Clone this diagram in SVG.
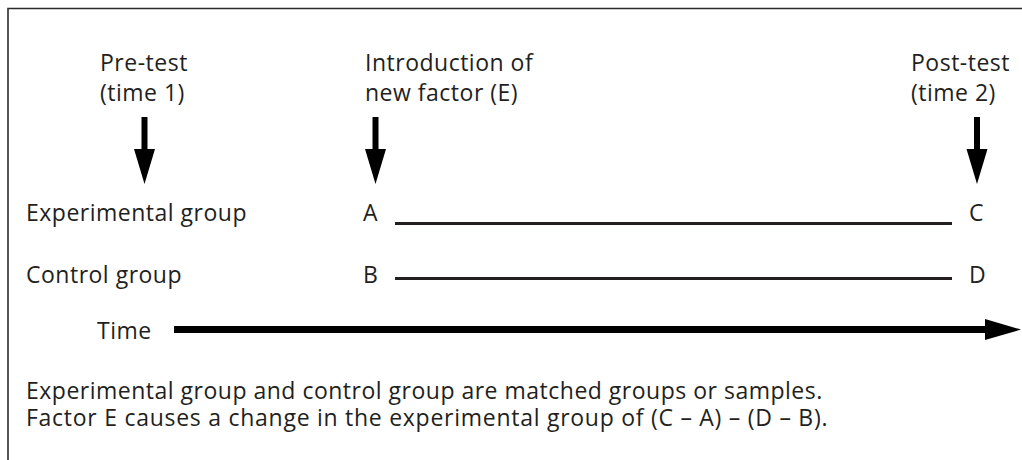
<svg xmlns="http://www.w3.org/2000/svg" width="1022" height="460" viewBox="0 0 1022 460">
<style>
  text { font-family: "Open Sans", "Liberation Sans", sans-serif; font-size: 23px; fill: #231f20; letter-spacing: 0.5px; }
  .thin { stroke: #231f20; stroke-width: 3; fill: none; }
  .shaft { stroke: #000; stroke-width: 6; fill: none; }
  .head { fill: #000; }
</style>
<rect width="1022" height="460" fill="#fff"/>
<path d="M8 460 V8.5 H1022" fill="none" stroke="#2b2b2b" stroke-width="1.6"/>
<g id="pretest">
  <text x="100" y="71">Pre-test<tspan x="100" y="101">(time 1)</tspan></text>
</g>
<g id="introduction">
  <text x="365" y="71">Introduction of<tspan x="365" y="101">new factor (E)</tspan></text>
</g>
<g id="posttest">
  <text x="911" y="71">Post-test<tspan x="911" y="101">(time 2)</tspan></text>
</g>
<g id="experimental">
  <text x="26" y="221">Experimental group</text>
  <text x="363" y="221">A</text>
  <text x="969" y="221">C</text>
</g>
<g id="control">
  <text x="26" y="283">Control group</text>
  <text x="363" y="283">B</text>
  <text x="969" y="283">D</text>
</g>
<g id="time">
  <text x="97" y="339">Time</text>
</g>
<g id="connectors">
  <line class="shaft" x1="144.5" y1="117" x2="144.5" y2="151"/>
  <polygon class="head" points="134,149 155,149 144.5,184"/>
  <line class="shaft" x1="375.5" y1="117" x2="375.5" y2="151"/>
  <polygon class="head" points="365,149 386,149 375.5,184"/>
  <line class="shaft" x1="977" y1="117" x2="977" y2="151"/>
  <polygon class="head" points="966.5,149 987.5,149 977,184"/>
  <line class="thin" x1="395" y1="223.5" x2="952" y2="223.5"/>
  <line class="thin" x1="395" y1="278.5" x2="952" y2="278.5"/>
  <line x1="174" y1="329.5" x2="988" y2="329.5" stroke="#000" stroke-width="7"/>
  <polygon class="head" points="985,319 1021,329.5 985,340"/>
</g>
<g id="caption">
  <text x="26" y="399">Experimental group and control group are matched groups or samples.<tspan x="26" y="426" textLength="802" lengthAdjust="spacing">Factor E causes a change in the experimental group of (C – A) – (D – B).</tspan></text>
</g>
</svg>
